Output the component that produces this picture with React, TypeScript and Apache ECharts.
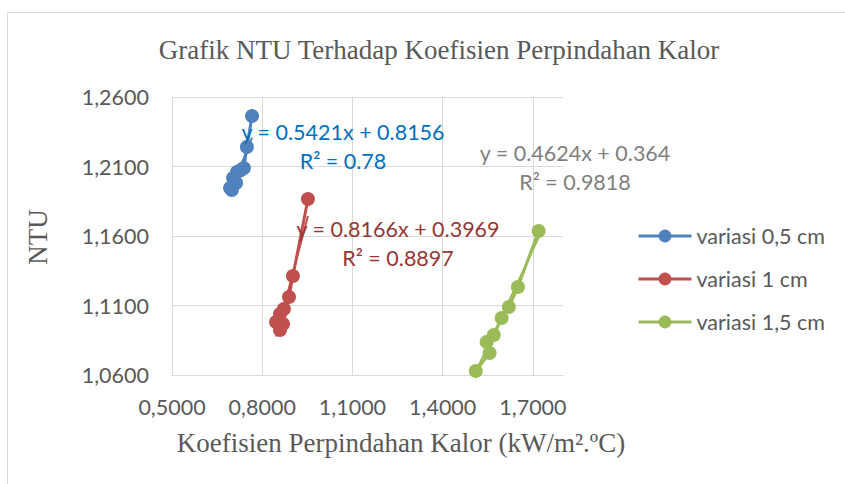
import React, { useEffect, useRef } from 'react';
import * as echarts from 'echarts';

const seriesNames = ['variasi 0,5 cm', 'variasi 1 cm', 'variasi 1,5 cm'];
const seriesColors = ['#4F81BD', '#C0504D', '#9BBB59'];
const labelColors = ['#0070C0', '#953735', '#7F7F7F'];

const blueX = [0.766, 0.749, 0.739, 0.729, 0.716, 0.703, 0.713, 0.693, 0.699];
const blueY = [1.2463, 1.224, 1.2089, 1.2074, 1.206, 1.2017, 1.1981, 1.1945, 1.1931];
const redX = [0.952, 0.902, 0.889, 0.872, 0.859, 0.846, 0.869, 0.859];
const redY = [1.1866, 1.1312, 1.1161, 1.1075, 1.1039, 1.0981, 1.0967, 1.0924];
const greenX = [1.719, 1.65, 1.62, 1.596, 1.57, 1.546, 1.556, 1.51];
const greenY = [1.1636, 1.1233, 1.1089, 1.101, 1.0888, 1.0837, 1.0758, 1.0629];

const trendSlopes = [0.5421, 0.8166, 0.4624];
const trendIntercepts = [0.8156, 0.3969, 0.364];
const trendEquations = ['y = 0.5421x + 0.8156', 'y = 0.8166x + 0.3969', 'y = 0.4624x + 0.364'];
const trendR2 = ['R² = 0.78', 'R² = 0.8897', 'R² = 0.9818'];

const xMin = 0.5;
const xMax = 1.8;
const xInterval = 0.3;
const yMin = 1.06;
const yMax = 1.26;
const yInterval = 0.05;

const titleText = 'Grafik NTU Terhadap Koefisien Perpindahan Kalor';
const xTitle = 'Koefisien Perpindahan Kalor (kW/m².ºC)';
const yTitle = 'NTU';

const fmt = (v: number) => v.toFixed(4).replace('.', ',');

export default function App() {
  const ref = useRef<HTMLDivElement>(null);
  useEffect(() => {
    document.body.style.margin = '0';
    if (!ref.current) return;
    const chart = echarts.init(ref.current, undefined, { renderer: 'svg' });
    const xs = [blueX, redX, greenX];
    const ys = [blueY, redY, greenY];
    const dataSeries: any[] = xs.map((xArr, i) => ({
      name: seriesNames[i],
      type: 'line',
      data: xArr.map((x, j) => [x, ys[i][j]]),
      symbol: 'circle',
      symbolSize: 14,
      itemStyle: { color: seriesColors[i] },
      lineStyle: { color: seriesColors[i], width: 3 },
      z: 3,
    }));
    const trendSeries: any[] = xs.map((xArr, i) => {
      const lo = Math.min(...xArr);
      const hi = Math.max(...xArr);
      return {
        type: 'line',
        data: [lo, hi].map((x) => [x, trendSlopes[i] * x + trendIntercepts[i]]),
        symbol: 'none',
        lineStyle: { color: seriesColors[i], width: 2 },
        z: 2,
        silent: true,
      };
    });
    const labelPos = [
      [343, 146],
      [398, 243],
      [575, 167],
    ];
    chart.setOption({
      animation: false,
      title: {
        text: titleText,
        left: 434,
        top: 31,
        textAlign: 'center',
        textStyle: { fontFamily: 'Liberation Serif', fontSize: 27, fontWeight: 'normal', color: '#595959' },
      },
      grid: { left: 172, top: 97, right: 282, bottom: 109 },
      legend: {
        data: seriesNames,
        orient: 'vertical',
        left: 632,
        top: 220,
        itemWidth: 53,
        itemHeight: 16,
        itemGap: 21,
        lineStyle: { width: 3 },
        textStyle: { fontFamily: 'Lato', fontSize: 21.5, color: '#595959' },
      },
      xAxis: {
        type: 'value',
        min: xMin,
        max: xMax,
        interval: xInterval,
        axisLine: { show: true, lineStyle: { color: '#d9d9d9' } },
        axisTick: { show: false },
        splitLine: { show: true, showMaxLine: false, lineStyle: { color: '#d9d9d9' } },
        axisLabel: {
          formatter: (v: number) => (v > xMax - 0.05 ? '' : fmt(v)),
          fontFamily: 'Lato',
          fontSize: 21.5,
          color: '#595959',
          margin: 21,
        },
      },
      yAxis: {
        type: 'value',
        min: yMin,
        max: yMax,
        interval: yInterval,
        axisLine: { show: true, lineStyle: { color: '#d9d9d9' } },
        axisTick: { show: false },
        splitLine: { show: true, lineStyle: { color: '#d9d9d9' } },
        axisLabel: {
          formatter: (v: number) => fmt(v),
          fontFamily: 'Lato',
          fontSize: 21.5,
          color: '#595959',
          margin: 23,
        },
      },
      graphic: [
        {
          type: 'rect',
          shape: { x: 7.5, y: 12.5, width: 860, height: 490 },
          style: { fill: 'none', stroke: '#d9d9d9', lineWidth: 1 },
          silent: true,
          z: -10,
        },
        {
          type: 'text',
          x: 38,
          y: 237,
          rotation: Math.PI / 2,
          style: {
            text: yTitle,
            fontFamily: 'Liberation Serif',
            fontSize: 27,
            fill: '#595959',
            align: 'center',
            verticalAlign: 'middle',
          },
        },
        {
          type: 'text',
          x: 401,
          y: 443,
          style: {
            text: xTitle,
            fontFamily: 'Liberation Serif',
            fontSize: 27,
            fill: '#595959',
            align: 'center',
            verticalAlign: 'middle',
          },
        },
        ...trendEquations.map((eq, i) => ({
          type: 'text',
          x: labelPos[i][0],
          y: labelPos[i][1],
          z: 10,
          style: {
            text: eq + '\n' + trendR2[i],
            fontFamily: 'Lato',
            fontSize: 21.5,
            lineHeight: 29,
            fill: labelColors[i],
            align: 'center',
            verticalAlign: 'middle',
          },
        })),
      ],
      series: [...trendSeries, ...dataSeries],
    });
    return () => chart.dispose();
  }, []);
  return <div ref={ref} style={{ width: 845, height: 484 }} />;
}
